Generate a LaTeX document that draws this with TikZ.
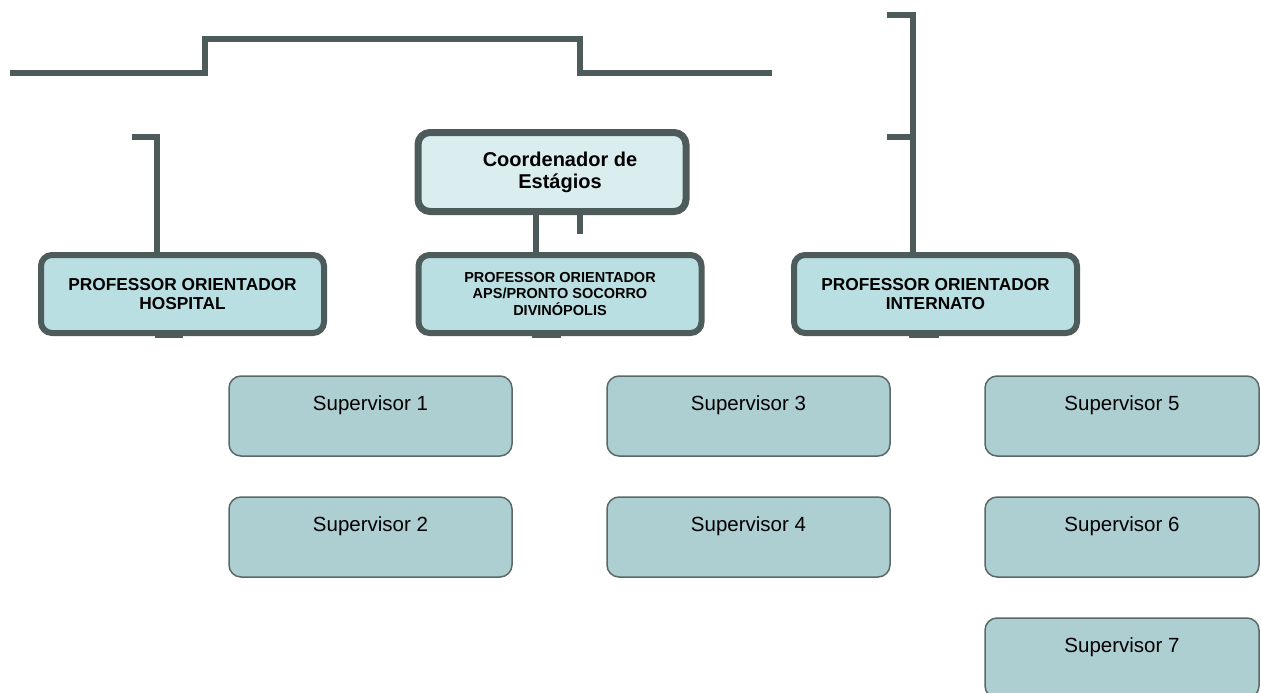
\documentclass[tikz,border=0pt]{standalone}
\usepackage{fontspec}
\setmainfont{Liberation Sans}
\definecolor{lineC}{HTML}{4E5B5B}
\definecolor{profFill}{HTML}{BADFE2}
\definecolor{coordFill}{HTML}{DAEDEF}
\definecolor{supFill}{HTML}{AECFD1}
\definecolor{supLine}{HTML}{5A6868}
\tikzset{
  conn/.style={draw=lineC, line width=6pt, line join=miter, line cap=rect},
  profbox/.style={draw=lineC, line width=6pt, fill=profFill, rounded corners=11pt,
    minimum width=283pt, minimum height=78pt, inner sep=0pt, align=center,
    font=\bfseries\fontsize{17.3}{19}\selectfont},
  coordbox/.style={draw=lineC, line width=7pt, fill=coordFill, rounded corners=12pt,
    minimum width=268pt, minimum height=79pt, inner sep=0pt},
  coordtext/.style={align=center, inner sep=0pt, font=\bfseries\fontsize{20}{22}\selectfont},
  supbox/.style={draw=supLine, line width=1.5pt, fill=supFill, rounded corners=12pt,
    minimum width=283pt, minimum height=80pt, inner sep=0pt,
    text height=34pt, text depth=46pt, font=\fontsize{20.5}{22}\selectfont},
  stub/.style={fill=lineC, draw=none}
}
\begin{document}
\begin{tikzpicture}[x=1pt,y=-1pt]
\useasboundingbox (0,0) rectangle (1261,693);
\clip (0,0) rectangle (1261,693);

% top stepped line
\coordinate (ta) at (10,73);
\coordinate (tb) at (205,73);
\coordinate (tc) at (205,39);
\coordinate (td) at (580,39);
\coordinate (te) at (580,73);
\coordinate (tf) at (772,73);
\draw[conn, line cap=butt] (ta) -- (tb) -- (tc) -- (td) -- (te) -- (tf);

% professor boxes positions (drawn later)
\coordinate (hospC) at (182.5,294);
\coordinate (apsC) at (560,294);
\coordinate (intC) at (935.5,294);

% stubs below professor boxes
\fill[stub] (155,320) rectangle (183,338);
\fill[stub] (532,320) rectangle (561,338);
\fill[stub] (909,320) rectangle (939,338);

% coordinator
\node[coordbox] (coord) at (552,172) {};
\node[coordtext] (coordT) at (560,172) {Coordenador de\\Estágios};

% professor boxes
\node[profbox] (hosp) at (hospC) {PROFESSOR ORIENTADOR\\HOSPITAL};
\node[profbox, font=\bfseries\fontsize{14.5}{16.5}\selectfont] (aps) at (apsC) {PROFESSOR ORIENTADOR\\APS/PRONTO SOCORRO\\DIVINÓPOLIS};
\node[profbox] (int) at (intC) {PROFESSOR ORIENTADOR\\INTERNATO};

% connectors
\coordinate (lb) at (132,137);
\coordinate (lbc) at (157,137);
\draw[conn, line cap=butt] (lb) -- (lbc) -- (lbc |- hosp.north);

\coordinate (rt) at (887,15);
\coordinate (rtc) at (913,15);
\coordinate (rm) at (887,137);
\coordinate (rmc) at (913,137);
\draw[conn, line cap=butt] (rt) -- (rtc) -- (rtc |- int.north);
\draw[conn, line cap=butt] (rm) -- (rmc);

\coordinate (cl) at (536,0);
\draw[conn, line cap=butt] (cl |- coord.south) -- (cl |- aps.north);
\coordinate (cs) at (580,234);
\draw[conn, line cap=butt] (cs |- coord.south) -- (cs);

% supervisors
\node[supbox] (s1) at (370.5,416) {Supervisor 1};
\node[supbox] (s2) at (370.5,537) {Supervisor 2};
\node[supbox] (s3) at (748.5,416) {Supervisor 3};
\node[supbox] (s4) at (748.5,537) {Supervisor 4};
\node[supbox, minimum width=274pt] (s5) at (1122,416) {Supervisor 5};
\node[supbox, minimum width=274pt] (s6) at (1122,537) {Supervisor 6};
\node[supbox, minimum width=274pt] (s7) at (1122,658) {Supervisor 7};
\end{tikzpicture}
\end{document}
